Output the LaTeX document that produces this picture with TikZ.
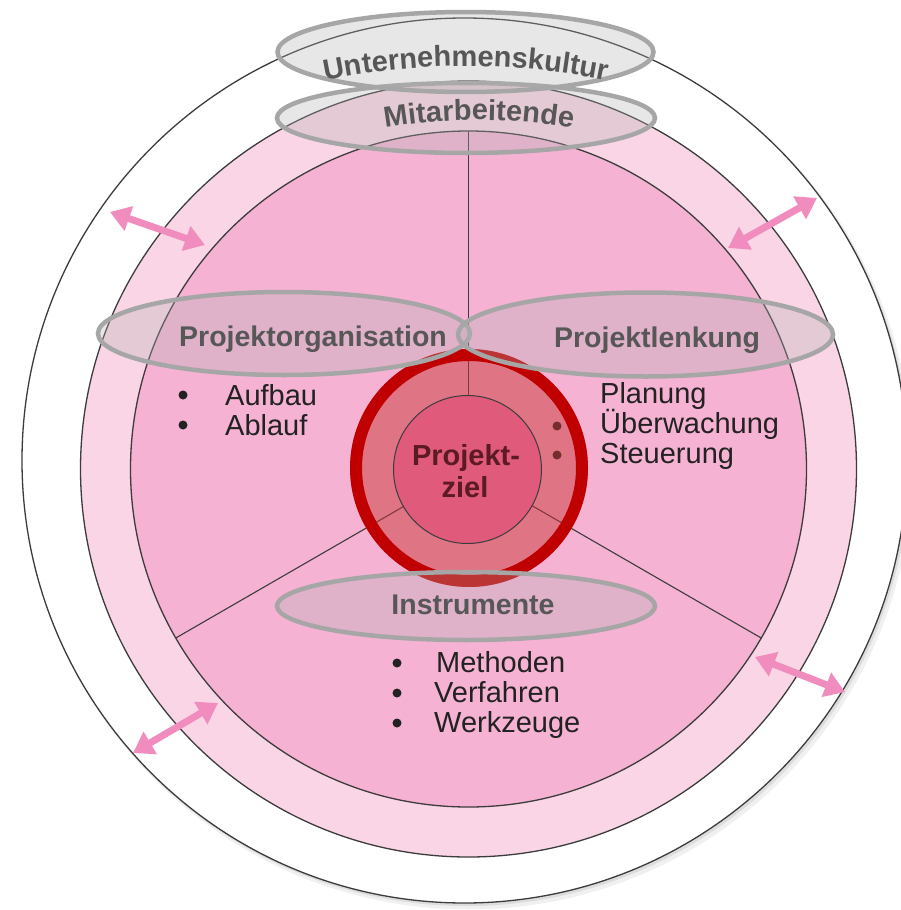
\documentclass[tikz,border=0pt]{standalone}
\usepackage{fontspec}
\setmainfont{Liberation Sans}
\usetikzlibrary{arrows.meta,decorations.text,calc}

\definecolor{ringpink}{HTML}{F9D5E5}
\definecolor{innerpink}{HTML}{F5B2D3}
\definecolor{rimgray}{HTML}{3C3C3C}
\definecolor{ovalgray}{HTML}{A6A6A6}
\definecolor{ovalfill}{HTML}{B2B2B2}
\definecolor{labelgray}{HTML}{575757}
\definecolor{itemblack}{HTML}{222222}
\definecolor{arrowpink}{HTML}{F08DBE}
\definecolor{goalred}{HTML}{C00000}
\definecolor{goalveil}{HTML}{CB3838}
\definecolor{goalcore}{HTML}{E05A7B}
\definecolor{goaltext}{HTML}{5C1A22}

\newcommand{\ovalfont}{\fontsize{28.5}{30}\selectfont\bfseries}
\newcommand{\arcfont}{\fontsize{29}{30}\selectfont\bfseries}

\begin{document}
\begin{tikzpicture}[x=1pt,y=-1pt,
  rim/.style={draw=rimgray, line width=1.3pt},
  spoke/.style={draw=rimgray, line width=1.1pt},
  oval/.style={draw=ovalgray, line width=4.5pt, fill=ovalfill, fill opacity=0.3},
  oval label/.style={font=\ovalfont, text=labelgray, anchor=base, inner sep=0pt},
  itemtext/.style={font=\fontsize{29}{31}\selectfont, text=itemblack, anchor=base west, inner sep=0pt},
  dot/.style={circle, fill=itemblack, inner sep=0pt, minimum size=9pt},
  link/.style={draw=arrowpink, line width=7pt,
    {Triangle[length=20pt,width=25pt]}-{Triangle[length=20pt,width=25pt]}},
  goal label/.style={font=\fontsize{29}{32}\selectfont\bfseries, text=goaltext, anchor=base, inner sep=0pt}
]
\useasboundingbox (0,0) rectangle (900,910);
\fill[white] (0,0) rectangle (900,910);

% centre of the wheel
\coordinate (c) at (468.5,469);
\coordinate (co) at (464.5,460.5);

% soft shadow and outer circle
\fill[black, opacity=0.06] (468.5,465.5) circle[radius=444];
\fill[black, opacity=0.08] (466.5,463) circle[radius=443];
\draw[rim, fill=white] (co) circle[radius=442.5];

% pink rings
\draw[rim, fill=ringpink] (c) circle[radius=388];
\draw[rim, fill=innerpink] (c) circle[radius=338];

% three spokes
\coordinate (s1) at ($(c)+(-90:338)$);
\coordinate (s2) at ($(c)+(150:338)$);
\coordinate (s3) at ($(c)+(30:338)$);
\draw[spoke] (c) -- (s1);
\draw[spoke] (c) -- (s2);
\draw[spoke] (c) -- (s3);

% item lists
\node[dot] (b11) at (183,395) {};
\node[dot] (b12) at (183,425) {};
\node[itemtext] (i11) at (225,405) {Aufbau};
\node[itemtext] (i12) at (225,435) {Ablauf};

\node[dot] (b21) at (557,396) {};
\node[dot] (b22) at (557,426) {};
\node[dot] (b23) at (557,455) {};
\node[itemtext] (i21) at (600,403) {Planung};
\node[itemtext] (i22) at (600,433) {Überwachung};
\node[itemtext] (i23) at (600,463) {Steuerung};

\node[dot] (b31) at (397,663) {};
\node[dot] (b32) at (397,693) {};
\node[dot] (b33) at (397,723) {};
\node[itemtext] (i31) at (436,672) {Methoden};
\node[itemtext] (i32) at (434,702) {Verfahren};
\node[itemtext] (i33) at (434,732) {Werkzeuge};

% project goal in the middle
\coordinate (g) at (469,468);
\fill[goalveil, opacity=0.5] (g) circle[radius=119];
\draw[goalred, line width=12pt] (g) circle[radius=113];
\draw[rimgray, line width=1pt, fill=goalcore] (467.5,469.5) circle[radius=74];
\node[goal label] (goal1) at (466,465) {Projekt-};
\node[goal label] (goal2) at (465,497) {ziel};

% interaction arrows between the rings
\coordinate (a1o) at (110,212); \coordinate (a1i) at (205,245);
\coordinate (a2o) at (817,198); \coordinate (a2i) at (728,248);
\coordinate (a3o) at (845,692); \coordinate (a3i) at (755,657);
\coordinate (a4o) at (133,753); \coordinate (a4i) at (218,703);
\draw[link] (a1o) -- (a1i);
\draw[link] (a2o) -- (a2i);
\draw[link] (a3o) -- (a3i);
\draw[link] (a4o) -- (a4i);

% translucent ovals
\coordinate (staff) at (466,118);
\coordinate (culture) at (465.5,52);
\coordinate (org) at (284,333.5);
\coordinate (ctrl) at (645.5,334.5);
\coordinate (tools) at (466,606);
\path[oval] (staff) ellipse[x radius=189, y radius=35];
\path[oval] (culture) ellipse[x radius=188, y radius=40];
\path[oval] (org) ellipse[x radius=186, y radius=41.5];
\path[oval] (ctrl) ellipse[x radius=187.5, y radius=42];
\path[oval] (tools) ellipse[x radius=189, y radius=34];

% curved labels
\coordinate (cultarc) at (466,766);
\coordinate (staffarc) at (479,680);
\path[decorate, decoration={text along path, text align=center,
    text={|\arcfont\color{labelgray}|Unternehmenskultur}}]
  ($(cultarc)+(-104:700)$) arc[start angle=-104, end angle=-76, radius=700];
\path[decorate, decoration={text along path, text align=center,
    text={|\arcfont\color{labelgray}|Mitarbeitende}}]
  ($(staffarc)+(-106:560)$) arc[start angle=-106, end angle=-74, radius=560];

% straight labels
\node[oval label] (orgtext) at (313,346) {Projektorganisation};
\node[oval label] (ctrltext) at (657,347) {Projektlenkung};
\node[oval label] (toolstext) at (473,614) {Instrumente};
\end{tikzpicture}
\end{document}
